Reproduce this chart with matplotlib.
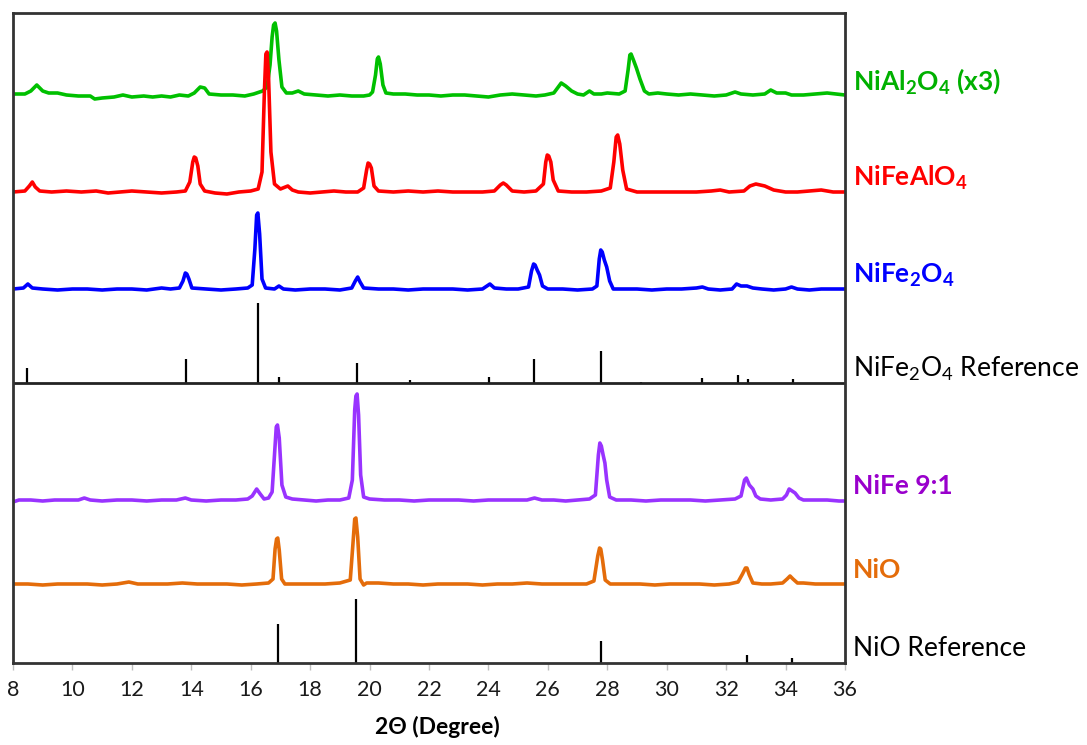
import matplotlib
matplotlib.use("Agg")
import matplotlib.pyplot as plt
import matplotlib.transforms as mtransforms
import numpy as np

plt.rcParams['font.family'] = ['Lato', 'DejaVu Sans']
plt.rcParams['mathtext.fontset'] = 'custom'
plt.rcParams['mathtext.rm'] = 'Lato'
plt.rcParams['mathtext.bf'] = 'Lato:bold'

# ---- data: 2theta (deg), intensity above own baseline (a.u.) ----
nial2o4_pts = [
    (8.0, 1), (8.4, 1), (8.6, 4), (8.8, 10), (9.0, 4), (9.2, 2), (9.5, 2), (9.8, 0),
    (10.2, -1), (10.6, -1), (10.75, -4), (11.0, -3), (11.4, -2), (11.7, 0), (12.0, -2),
    (12.4, -1), (12.7, -2), (13.0, -1), (13.3, -2), (13.6, 0), (13.9, -1), (14.1, 2),
    (14.3, 8), (14.45, 7), (14.6, 1), (15.0, 0), (15.4, 0), (15.8, -1), (16.1, 1),
    (16.4, 4), (16.55, 8), (16.65, 30), (16.72, 58), (16.77, 70), (16.82, 72), (16.87, 64),
    (16.95, 35), (17.05, 8), (17.2, 2), (17.4, 2), (17.6, 4), (17.8, 1), (18.2, 0), (18.6, -1),
    (19.0, 0), (19.4, -1), (19.8, -1), (20.0, 0), (20.1, 3), (20.2, 20), (20.26, 36),
    (20.3, 38), (20.36, 31), (20.45, 10), (20.55, 2), (20.8, 1), (21.2, 1), (21.6, 0), (22.0, 0),
    (22.4, -1), (22.8, 0), (23.2, 0), (23.6, -1), (24.0, -2), (24.4, 0), (24.8, 1),
    (25.2, 0), (25.6, -1), (25.9, 0), (26.2, 2), (26.45, 12), (26.6, 9), (26.8, 4),
    (27.0, 1), (27.2, 0), (27.4, 4), (27.55, 1), (27.8, 1), (28.0, 2), (28.4, 1),
    (28.6, 4), (28.7, 25), (28.76, 40), (28.8, 41), (28.88, 35), (28.98, 27), (29.1, 16),
    (29.25, 4), (29.4, 1), (29.7, 2), (30.0, 1), (30.4, 0), (30.8, 1), (31.2, 0), (31.6, -1),
    (32.0, 0), (32.3, 3), (32.5, 1), (32.9, 0), (33.3, 1), (33.5, 5), (33.7, 2),
    (34.0, 2), (34.2, 0), (34.6, 0), (35.0, 1), (35.4, 2), (35.7, 1), (36.0, 0),
]
nifealo4_pts = [
    (8.0, 0), (8.4, 1), (8.55, 6), (8.65, 10), (8.75, 5), (8.9, 1), (9.3, 0), (9.8, 1),
    (10.3, 0), (10.8, 1), (11.2, -1), (11.6, 0), (12.0, 1), (12.5, 0), (13.0, -1),
    (13.5, 0), (13.8, 1), (13.95, 10), (14.05, 30), (14.1, 35), (14.15, 34), (14.22, 26),
    (14.3, 8), (14.45, 1), (14.8, -1), (15.2, -2), (15.6, 0), (16.0, 1), (16.25, 3),
    (16.38, 20), (16.46, 100), (16.51, 138), (16.55, 140), (16.6, 115), (16.68, 40),
    (16.8, 8), (17.0, 3), (17.25, 6), (17.4, 2), (17.6, 0), (18.0, -1), (18.4, 0),
    (18.8, 1), (19.2, 0), (19.6, 0), (19.8, 4), (19.9, 22), (19.95, 29), (20.0, 28),
    (20.06, 24), (20.15, 6), (20.3, 1), (20.8, 0), (21.3, 1), (21.8, 0), (22.3, 1),
    (22.8, 0), (23.3, 0), (23.8, 0), (24.2, 1), (24.4, 7), (24.5, 9), (24.6, 7),
    (24.8, 1), (25.2, 0), (25.6, 1), (25.85, 8), (25.93, 30), (25.98, 37), (26.03, 36),
    (26.1, 30), (26.18, 12), (26.35, 1), (26.8, 0), (27.3, 0), (27.8, 1), (28.1, 4),
    (28.22, 30), (28.3, 55), (28.35, 57), (28.42, 48), (28.52, 22), (28.65, 3), (29.0, 0),
    (29.5, 0), (30.0, 0), (30.5, 0), (31.0, 0), (31.5, 1), (31.8, 2), (32.1, 0),
    (32.6, 1), (32.8, 6), (33.0, 8), (33.3, 6), (33.6, 2), (34.0, 0), (34.4, 0),
    (34.8, 1), (35.2, 2), (35.6, 0), (36.0, 0),
]
nife2o4_pts = [
    (8.0, 0), (8.35, 1), (8.5, 5), (8.65, 1), (9.0, 0), (9.5, -1), (10.0, 0), (10.5, 0),
    (11.0, -1), (11.5, 0), (12.0, 0), (12.5, -1), (13.0, 1), (13.3, 0), (13.6, 1),
    (13.72, 8), (13.8, 16), (13.85, 15), (13.92, 10), (14.02, 1), (14.5, 0), (15.0, -1),
    (15.5, 0), (15.9, 1), (16.05, 4), (16.14, 40), (16.2, 74), (16.24, 76), (16.3, 55),
    (16.38, 10), (16.5, 1), (16.8, 0), (16.95, 3), (17.1, 0), (17.5, -1), (18.0, 0),
    (18.5, 0), (19.0, -1), (19.4, 1), (19.52, 8), (19.6, 12), (19.68, 7), (19.8, 1),
    (20.3, 0), (20.8, 0), (21.3, -1), (21.8, 0), (22.3, 0), (22.8, 0), (23.3, -1),
    (23.8, 0), (23.95, 3), (24.05, 5), (24.2, 1), (24.6, 0), (25.0, 0), (25.35, 2),
    (25.45, 18), (25.52, 25), (25.57, 24), (25.64, 19), (25.72, 14), (25.82, 3), (26.0, 0),
    (26.5, 0), (27.0, -1), (27.5, 0), (27.65, 3), (27.73, 30), (27.78, 39), (27.83, 37),
    (27.9, 29), (27.98, 22), (28.08, 8), (28.2, 0), (28.6, 0), (29.0, 0), (29.5, -1),
    (30.0, 0), (30.5, 0), (31.0, 1), (31.2, 2), (31.4, 0), (31.8, -1), (32.2, 0),
    (32.35, 5), (32.5, 3), (32.7, 3), (32.9, 1), (33.2, 0), (33.6, -1), (34.0, 0),
    (34.2, 2), (34.4, 0), (34.8, -1), (35.2, 0), (35.6, 0), (36.0, 0),
]
nife91_pts = [
    (8.0, -2), (8.2, 0), (8.6, 0), (9.0, -1), (9.4, 0), (9.8, 0), (10.2, 0), (10.4, 2),
    (10.6, 0), (11.0, -1), (11.5, 0), (12.0, 0), (12.5, -1), (13.0, 0), (13.5, 0),
    (13.8, 2), (14.0, 0), (14.5, -1), (15.0, 0), (15.5, 0), (15.9, 1), (16.05, 4),
    (16.2, 11), (16.32, 6), (16.45, 1), (16.6, 2), (16.72, 8), (16.8, 45), (16.86, 73),
    (16.9, 75), (16.96, 62), (17.05, 15), (17.18, 3), (17.4, 1), (17.8, 0), (18.2, -1),
    (18.6, 0), (19.0, 0), (19.3, 2), (19.42, 20), (19.5, 90), (19.54, 104), (19.58, 106),
    (19.63, 85), (19.7, 25), (19.8, 3), (20.0, 1), (20.5, 0), (21.0, 0), (21.5, -1),
    (22.0, 0), (22.5, 0), (23.0, 0), (23.5, -1), (24.0, 0), (24.5, 0), (25.0, 0),
    (25.3, 0), (25.55, 2), (25.8, 0), (26.2, 0), (26.6, -1), (27.0, 0), (27.4, 1),
    (27.6, 5), (27.7, 45), (27.75, 57), (27.8, 54), (27.86, 45), (27.92, 37), (27.98, 20),
    (28.08, 3), (28.3, 0), (28.8, 0), (29.3, -1), (29.8, 0), (30.3, 0), (30.8, 0),
    (31.3, -1), (31.8, 0), (32.3, 1), (32.5, 4), (32.62, 20), (32.68, 22), (32.78, 15),
    (32.9, 11), (33.0, 4), (33.15, 1), (33.5, 0), (33.9, 1), (34.03, 5), (34.12, 11),
    (34.22, 9), (34.32, 7), (34.45, 2), (34.6, 0), (35.0, 0), (35.4, 0), (35.8, -1),
    (36.0, -1),
]
nio_pts = [
    (8.0, 0), (8.5, 0), (9.0, -1), (9.5, 0), (10.0, 0), (10.5, 0), (11.0, -1), (11.5, 0),
    (11.9, 2), (12.2, 0), (12.7, 0), (13.2, 0), (13.7, 1), (14.2, 0), (14.7, 0),
    (15.2, 0), (15.7, -1), (16.2, 0), (16.6, 1), (16.75, 5), (16.82, 35), (16.87, 45),
    (16.91, 46), (16.96, 34), (17.04, 5), (17.15, 0), (17.6, 0), (18.0, 0), (18.5, 0),
    (19.0, 1), (19.35, 4), (19.44, 40), (19.5, 65), (19.54, 66), (19.6, 47), (19.68, 5),
    (19.8, -1), (19.9, 1), (20.3, 1), (20.8, 0), (21.3, 0), (21.8, -1), (22.3, 0),
    (22.8, 0), (23.3, 0), (23.8, -1), (24.3, 0), (24.8, 0), (25.3, 1), (25.8, 0),
    (26.3, 0), (26.8, 0), (27.3, 0), (27.55, 3), (27.68, 28), (27.74, 36), (27.78, 35),
    (27.84, 24), (27.93, 4), (28.1, 0), (28.6, 0), (29.1, 0), (29.6, -1), (30.1, 0),
    (30.6, 0), (31.1, 0), (31.6, -1), (32.1, 0), (32.4, 2), (32.55, 10), (32.65, 16),
    (32.7, 16), (32.78, 9), (32.9, 1), (33.2, 0), (33.5, 0), (33.9, 1), (34.05, 5),
    (34.15, 8), (34.25, 5), (34.4, 1), (34.6, 1), (35.0, 0), (35.5, 0), (36.0, 0),
]

# reference stick patterns
nife2o4_ref_pos = [8.47, 13.82, 16.24, 16.95, 19.58, 21.36, 24.02, 25.54, 27.8,
                   29.14, 31.19, 32.4, 32.74, 34.25]
nife2o4_ref_int = [15, 24, 80, 6, 20, 3, 6, 24, 32, 1, 5, 8, 4, 4]
nio_ref_pos = [16.92, 19.55, 27.8, 32.7, 34.2]
nio_ref_int = [39, 64, 22, 8, 5]

# ---- layout / styles ----
# vertical stacking offsets of each pattern
off_nial2o4, off_nifealo4, off_nife2o4 = 568, 471, 374
off_ref1, off_nife91, off_nio, off_ref2 = 280, 163, 79, 0

fig = plt.figure(figsize=(10.87, 7.45), dpi=100)
ax = fig.add_axes([13/1087, 82/745, 832/1087, 650/745])

def trace(pts, off, color):
    x = np.array([p[0] for p in pts])
    y = np.array([p[1] for p in pts]) + off
    ax.plot(x, y, color=color, lw=2.6, solid_joinstyle='round', solid_capstyle='round')

trace(nial2o4_pts, off_nial2o4, '#00C000')
trace(nifealo4_pts, off_nifealo4, '#FF0000')
trace(nife2o4_pts, off_nife2o4, '#0000FF')
trace(nife91_pts, off_nife91, '#9933FF')
trace(nio_pts, off_nio, '#E46C0A')

ax.vlines(nife2o4_ref_pos, off_ref1, off_ref1 + np.array(nife2o4_ref_int), color='black', lw=1.6)
ax.vlines(nio_ref_pos, off_ref2, off_ref2 + np.array(nio_ref_int), color='black', lw=1.6)
ax.axhline(off_ref1, color='#222222', lw=2)

ax.set_xlim(8, 36)
ax.set_ylim(0, 650)
ax.set_xticks(np.arange(8, 37, 2))
ax.set_yticks([])
ax.tick_params(axis='x', direction='out', length=5, width=1, color='#BFBFBF',
               labelsize=15.5, pad=7, labelcolor='#1a1a1a')
for s in ax.spines.values():
    s.set_color('#333333')
    s.set_linewidth(2)
ax.set_xlabel('2Θ (Degree)', fontsize=16.5, fontweight='bold', labelpad=12)
ax.xaxis.label.set_x(0.51)

# labels to the right of the plot
tr = mtransforms.blended_transform_factory(ax.transAxes, ax.transData)
labels = [
    (r'NiAl$_\mathbf{2}$O$_\mathbf{4}$ (x3)', off_nial2o4, '#00B000', 'bold'),
    (r'NiFeAlO$_\mathbf{4}$', off_nifealo4, '#FF0000', 'bold'),
    (r'NiFe$_\mathbf{2}$O$_\mathbf{4}$', off_nife2o4, '#0000FF', 'bold'),
    (r'NiFe$_\mathrm{2}$O$_\mathrm{4}$ Reference', off_ref1, 'black', 'normal'),
    ('NiFe 9:1', off_nife91, '#9900CC', 'bold'),
    ('NiO', off_nio, '#E46C0A', 'bold'),
    ('NiO Reference', off_ref2, 'black', 'normal'),
]
for txt, off, col, wt in labels:
    ax.text(1.0096, off + 14, txt, transform=tr, color=col, fontsize=19,
            fontweight=wt, va='center', ha='left', clip_on=False)

fig.savefig('out.png', dpi=100)
